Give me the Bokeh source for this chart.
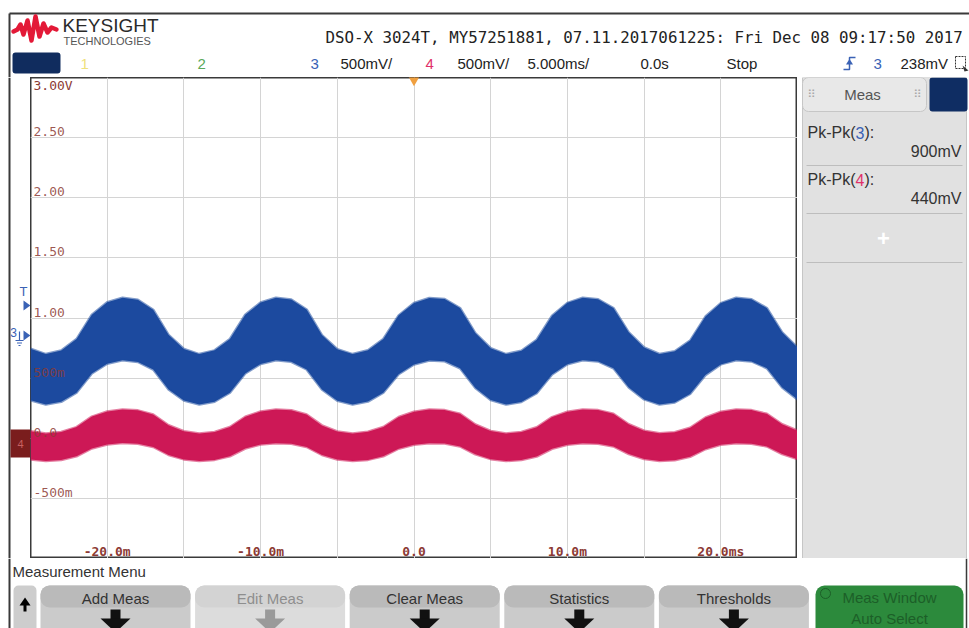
from bokeh.plotting import figure
from bokeh.layouts import column, row
from bokeh.models import Range1d, FixedTicker
from bokeh.core.properties import value
from bokeh.embed import file_html
from bokeh.resources import INLINE

# ---- acquisition: one envelope sample per millisecond over the 50 ms window ----
time_ms = list(range(-25, 26))

# channel 3 (blue) upper / lower envelope, volts on the displayed scale
ch3_upper = [0.744, 0.700, 0.729, 0.825, 1.028, 1.131, 1.169, 1.151, 1.069, 0.860,
             0.743, 0.700, 0.731, 0.826, 1.027, 1.129, 1.168, 1.153, 1.071, 0.858,
             0.740, 0.700, 0.732, 0.825, 1.022, 1.125, 1.167, 1.157, 1.083, 0.875,
             0.749, 0.700, 0.728, 0.820, 1.019, 1.126, 1.168, 1.156, 1.083, 0.881,
             0.755, 0.701, 0.723, 0.812, 1.012, 1.124, 1.168, 1.156, 1.083, 0.881,
             0.755]
ch3_lower = [0.315, 0.280, 0.303, 0.378, 0.538, 0.619, 0.649, 0.635, 0.571, 0.406,
             0.314, 0.280, 0.304, 0.379, 0.538, 0.618, 0.649, 0.636, 0.572, 0.405,
             0.312, 0.280, 0.305, 0.379, 0.533, 0.614, 0.647, 0.640, 0.582, 0.418,
             0.318, 0.280, 0.302, 0.374, 0.531, 0.615, 0.648, 0.639, 0.582, 0.422,
             0.323, 0.281, 0.298, 0.368, 0.525, 0.614, 0.648, 0.639, 0.582, 0.422,
             0.323]

# channel 4 (red) upper / lower envelope
ch4_upper = [0.059, 0.040, 0.052, 0.093, 0.180, 0.223, 0.240, 0.232, 0.197, 0.108,
             0.058, 0.040, 0.053, 0.094, 0.179, 0.223, 0.239, 0.233, 0.198, 0.107,
             0.057, 0.040, 0.054, 0.093, 0.177, 0.221, 0.239, 0.234, 0.203, 0.115,
             0.061, 0.040, 0.052, 0.091, 0.176, 0.221, 0.239, 0.234, 0.203, 0.117,
             0.063, 0.041, 0.050, 0.088, 0.173, 0.220, 0.239, 0.234, 0.203, 0.117,
             0.063]
ch4_lower = [-0.176, -0.190, -0.181, -0.150, -0.085, -0.052, -0.040, -0.046, -0.072, -0.139,
             -0.176, -0.190, -0.180, -0.150, -0.086, -0.053, -0.041, -0.046, -0.072, -0.139,
             -0.177, -0.190, -0.180, -0.150, -0.087, -0.054, -0.041, -0.044, -0.068, -0.134,
             -0.174, -0.190, -0.181, -0.152, -0.088, -0.054, -0.041, -0.045, -0.068, -0.132,
             -0.173, -0.190, -0.183, -0.154, -0.091, -0.055, -0.041, -0.045, -0.068, -0.132,
             -0.173]

# graticule: 10 x 8 divisions, 5 ms/div and 500 mV/div
x_divisions = [-25, -20, -15, -10, -5, 0, 5, 10, 15, 20, 25]
y_divisions = [-1.0, -0.5, 0.0, 0.5, 1.0, 1.5, 2.0, 2.5, 3.0]
y_tick_values = [2.5, 2.0, 1.5, 1.0, 0.5, 0.0, -0.5]
y_tick_labels = ["2.50", "2.00", "1.50", "1.00", "500m", "0.0", "-500m"]
y_top_value = 3.0
y_top_label = "3.00V"
x_tick_values = [-20, -10, 0, 10, 20]
x_tick_labels = ["-20.0m", "-10.0m", "0.0", "10.0m", "20.0ms"]
trigger_time = 0.0

# measurement panel and soft-key menu
meas_channels = ["3", "4"]
meas_results = ["900mV", "440mV"]
menu_keys = ["Add Meas", "Edit Meas", "Clear Meas", "Statistics", "Thresholds"]

MONO = "DejaVu Sans Mono"
SANS = "Liberation Sans"
BLUE = "#1c4a9f"
RED = "#cd1856"
TICK = "#8c3a34"
CH_BLUE = "#3a62b5"
CH_RED = "#e0306a"
FRAME = "#3a3a3a"

COMMON = dict(output_backend="svg", toolbar_location=None, min_border=0,
              x_axis_location=None, y_axis_location=None,
              background_fill_color="white", border_fill_color="white")


def chrome(x0, x1, y0, y1):
    """A figure addressed in screen pixels (y grows downward)."""
    f = figure(width=x1 - x0, height=y1 - y0, x_range=Range1d(x0, x1),
               y_range=Range1d(y1, y0), outline_line_color=None, **COMMON)
    f.xgrid.visible = False
    f.ygrid.visible = False
    return f


def label(f, x, y, s, size, color, align="left", font=SANS, style="normal", alpha=1.0):
    f.text(x=[x], y=[y], text=[s], text_font=value(font),
           text_font_size=value(f"{size}px"), text_color=color, text_align=align,
           text_baseline="middle", text_font_style=style, text_alpha=alpha)


# ---------------- header bar ----------------
hdr = chrome(0, 969, 0, 77)
hdr.line([9, 969], [13, 13], line_color=FRAME, line_width=2)
hdr.line([9, 9], [13, 77], line_color=FRAME, line_width=2)
hdr.line([13, 17, 20, 23, 27, 31, 35, 39, 43, 47, 51, 56],
         [31, 29, 24, 34, 20, 40, 16, 36, 23, 32, 27, 29],
         line_color="#e31937", line_width=4.5, line_join="round", line_cap="round")
label(hdr, 62, 25, "KEYSIGHT", 19, "#2a2a2a")
label(hdr, 63, 40, "TECHNOLOGIES", 11, "#555555")
label(hdr, 325, 37, "DSO-X 3024T, MY57251881, 07.11.2017061225: Fri Dec 08 09:17:50 2017",
      15.8, "#222222", font=MONO)
hdr.quad(left=12, right=60, top=52, bottom=73, fill_color="#102c5e", line_color=None,
         border_radius=3)
label(hdr, 80, 63, "1", 15, "#efe17a")
label(hdr, 197, 63, "2", 15, "#5aa95a")
label(hdr, 310, 63, "3", 15, CH_BLUE)
label(hdr, 340, 63, "500mV/", 15, "#222222")
label(hdr, 425, 63, "4", 15, CH_RED)
label(hdr, 457, 63, "500mV/", 15, "#222222")
label(hdr, 527, 63, "5.000ms/", 15, "#222222")
label(hdr, 640, 63, "0.0s", 15, "#222222")
label(hdr, 726, 63, "Stop", 15, "#222222")
hdr.line([843, 849, 849, 855], [69, 69, 57, 57], line_color=CH_BLUE, line_width=1.5)
hdr.patch([845.5, 852.5, 849], [64, 64, 58.5], fill_color=CH_BLUE, line_color=None)
label(hdr, 873, 63, "3", 15, CH_BLUE)
label(hdr, 900, 63, "238mV", 15, "#222222")
hdr.quad(left=955, right=965, top=56, bottom=68, fill_color=None, line_color="#333333",
         line_dash="2 1", line_width=1)
hdr.patch([962, 968, 964], [65, 70, 71], fill_color="#333333", line_color=None)

# ---------------- waveform display ----------------
main = figure(width=767, height=481, x_range=Range1d(-25, 25), y_range=Range1d(-1, 3),
              outline_line_color=FRAME, outline_line_width=2, **COMMON)
main.xgrid.ticker = FixedTicker(ticks=x_divisions)
main.ygrid.ticker = FixedTicker(ticks=y_divisions)
for g in (main.xgrid, main.ygrid):
    g.grid_line_color = "#d4d4d4"
    g.grid_line_width = 1

main.varea(x=time_ms, y1=ch3_lower, y2=ch3_upper, fill_color=BLUE)
main.line(time_ms, ch3_upper, line_color=BLUE, line_width=2.5, line_alpha=0.55,
          line_join="round")
main.line(time_ms, ch3_lower, line_color=BLUE, line_width=2.5, line_alpha=0.55,
          line_join="round")
main.varea(x=time_ms, y1=ch4_lower, y2=ch4_upper, fill_color=RED)
main.line(time_ms, ch4_upper, line_color=RED, line_width=2.5, line_alpha=0.55,
          line_join="round")
main.line(time_ms, ch4_lower, line_color=RED, line_width=2.5, line_alpha=0.55,
          line_join="round")

main.text(x=[x_divisions[0]] * len(y_tick_values), y=y_tick_values, text=y_tick_labels,
          x_offset=3, y_offset=-6, text_font=value(MONO), text_font_size=value("13px"),
          text_color=TICK, text_align="left", text_baseline="middle", text_alpha=0.85)
main.text(x=[x_divisions[0]], y=[y_top_value], text=[y_top_label], x_offset=3, y_offset=8,
          text_font=value(MONO), text_font_size=value("13px"), text_color=TICK,
          text_align="left", text_baseline="middle")
main.text(x=x_tick_values, y=[y_divisions[0]] * len(x_tick_values), text=x_tick_labels,
          y_offset=-7, text_font=value(MONO), text_font_size=value("13px"),
          text_font_style="bold", text_color=TICK, text_align="center",
          text_baseline="middle")
main.scatter(x=[trigger_time], y=[y_top_value], marker="inverted_triangle", size=15,
             fill_color="#f0a040", line_color=None)

# ---------------- channel markers strip ----------------
left = chrome(0, 30, 77, 558)
left.line([9, 9], [77, 558], line_color=FRAME, line_width=2)
label(left, 23, 291, "T", 13, CH_BLUE, align="center")
left.patch([23, 23, 30], [300, 310, 305], fill_color=CH_BLUE, line_color=None)
label(left, 13, 332, "3", 12, CH_BLUE, align="center")
left.multi_line([[19, 19], [15, 23], [16.5, 21.5], [18, 20]],
                [[331, 340], [340, 340], [342.5, 342.5], [345, 345]],
                line_color=CH_BLUE, line_width=1.2)
left.patch([23, 23, 30], [330, 340, 335], fill_color=CH_BLUE, line_color=None)
left.quad(left=10, right=30, top=429, bottom=457, fill_color="#7a1d1d", line_color=None)
label(left, 20, 443, "4", 11, "#c86060", align="center")

# ---------------- measurement panel ----------------
right = chrome(797, 969, 77, 558)
right.quad(left=802, right=966, top=77, bottom=558, fill_color="#e1e1e1",
           line_color="#c6c6c6")
right.quad(left=802, right=926, top=77, bottom=111, fill_color="#e8e8e8",
           line_color="#c6c6c6", border_radius=6)
right.quad(left=929, right=967, top=77, bottom=111, fill_color="#0f2d63", line_color=None,
           border_radius=3)
label(right, 862, 94, "Meas", 15, "#555555", align="center")
label(right, 811, 94, "⠿", 11, "#a8a8a8", align="center", font="DejaVu Sans")
label(right, 917, 94, "⠿", 11, "#a8a8a8", align="center", font="DejaVu Sans")
for i, (ch, res) in enumerate(zip(meas_channels, meas_results)):
    y0 = 132 + i * 47
    label(right, 807, y0, "Pk-Pk(", 16, "#333333")
    label(right, 855, y0, ch, 16, CH_BLUE if ch == "3" else CH_RED)
    label(right, 864, y0, "):", 16, "#333333")
    label(right, 961, y0 + 19, res, 16, "#333333", align="right")
right.multi_line([[806, 962], [806, 962], [806, 962]], [[165, 165], [213, 213], [262, 262]],
                 line_color="#bdbdbd", line_width=1)
label(right, 883, 238, "+", 22, "white", align="center", style="bold")

# ---------------- soft-key menu ----------------
foot = chrome(0, 969, 558, 628)
foot.line([9, 9], [558, 628], line_color=FRAME, line_width=2)
foot.line([966, 966], [558, 628], line_color=FRAME, line_width=1.5)
label(foot, 12, 571, "Measurement Menu", 15, "#333333")

foot.quad(left=13, right=36, top=585, bottom=640, fill_color="#cdcdcd", line_color=None,
          border_radius=5)
foot.patch([19, 30, 24.5], [605, 605, 597], fill_color="black", line_color=None)
foot.quad(left=23, right=26, top=604, bottom=611, fill_color="black", line_color=None)

for i, key in enumerate(menu_keys):
    x0 = 40 + i * 154.6
    x1 = x0 + 150
    cx = (x0 + x1) / 2
    dim = key == "Edit Meas"
    base = "#dcdcdc" if dim else "#cbcbcb"
    band = "#d3d3d3" if dim else "#bababa"
    ink = "#9a9a9a" if dim else "#111111"
    foot.quad(left=x0, right=x1, top=585, bottom=640, fill_color=base, line_color=None,
              border_radius=9)
    foot.quad(left=x0, right=x1, top=585, bottom=607, fill_color=band, line_color=None,
              border_radius=9)
    label(foot, cx, 598, key, 15, "#8e8e8e" if dim else "#333333", align="center")
    foot.quad(left=cx - 5, right=cx + 5, top=609, bottom=619, fill_color=ink, line_color=None)
    foot.patch([cx - 15, cx + 15, cx], [618, 618, 632], fill_color=ink, line_color=None)

gx0 = 40 + 5 * 154.6 + 2
foot.quad(left=gx0, right=963, top=585, bottom=640, fill_color="#2c8a3c", line_color=None,
          border_radius=9)
foot.circle(x=[gx0 + 10], y=[593], radius=5, fill_color=None, line_color="#1c5f28")
label(foot, (gx0 + 963) / 2, 597, "Meas Window", 15, "#1c5f28", align="center")
label(foot, (gx0 + 963) / 2, 618, "Auto Select", 15, "#1c5f28", align="center")

layout = column(hdr, row(left, main, right, spacing=0), foot, spacing=0)

with open("out.html", "w") as fh:
    fh.write(file_html(layout, INLINE))
